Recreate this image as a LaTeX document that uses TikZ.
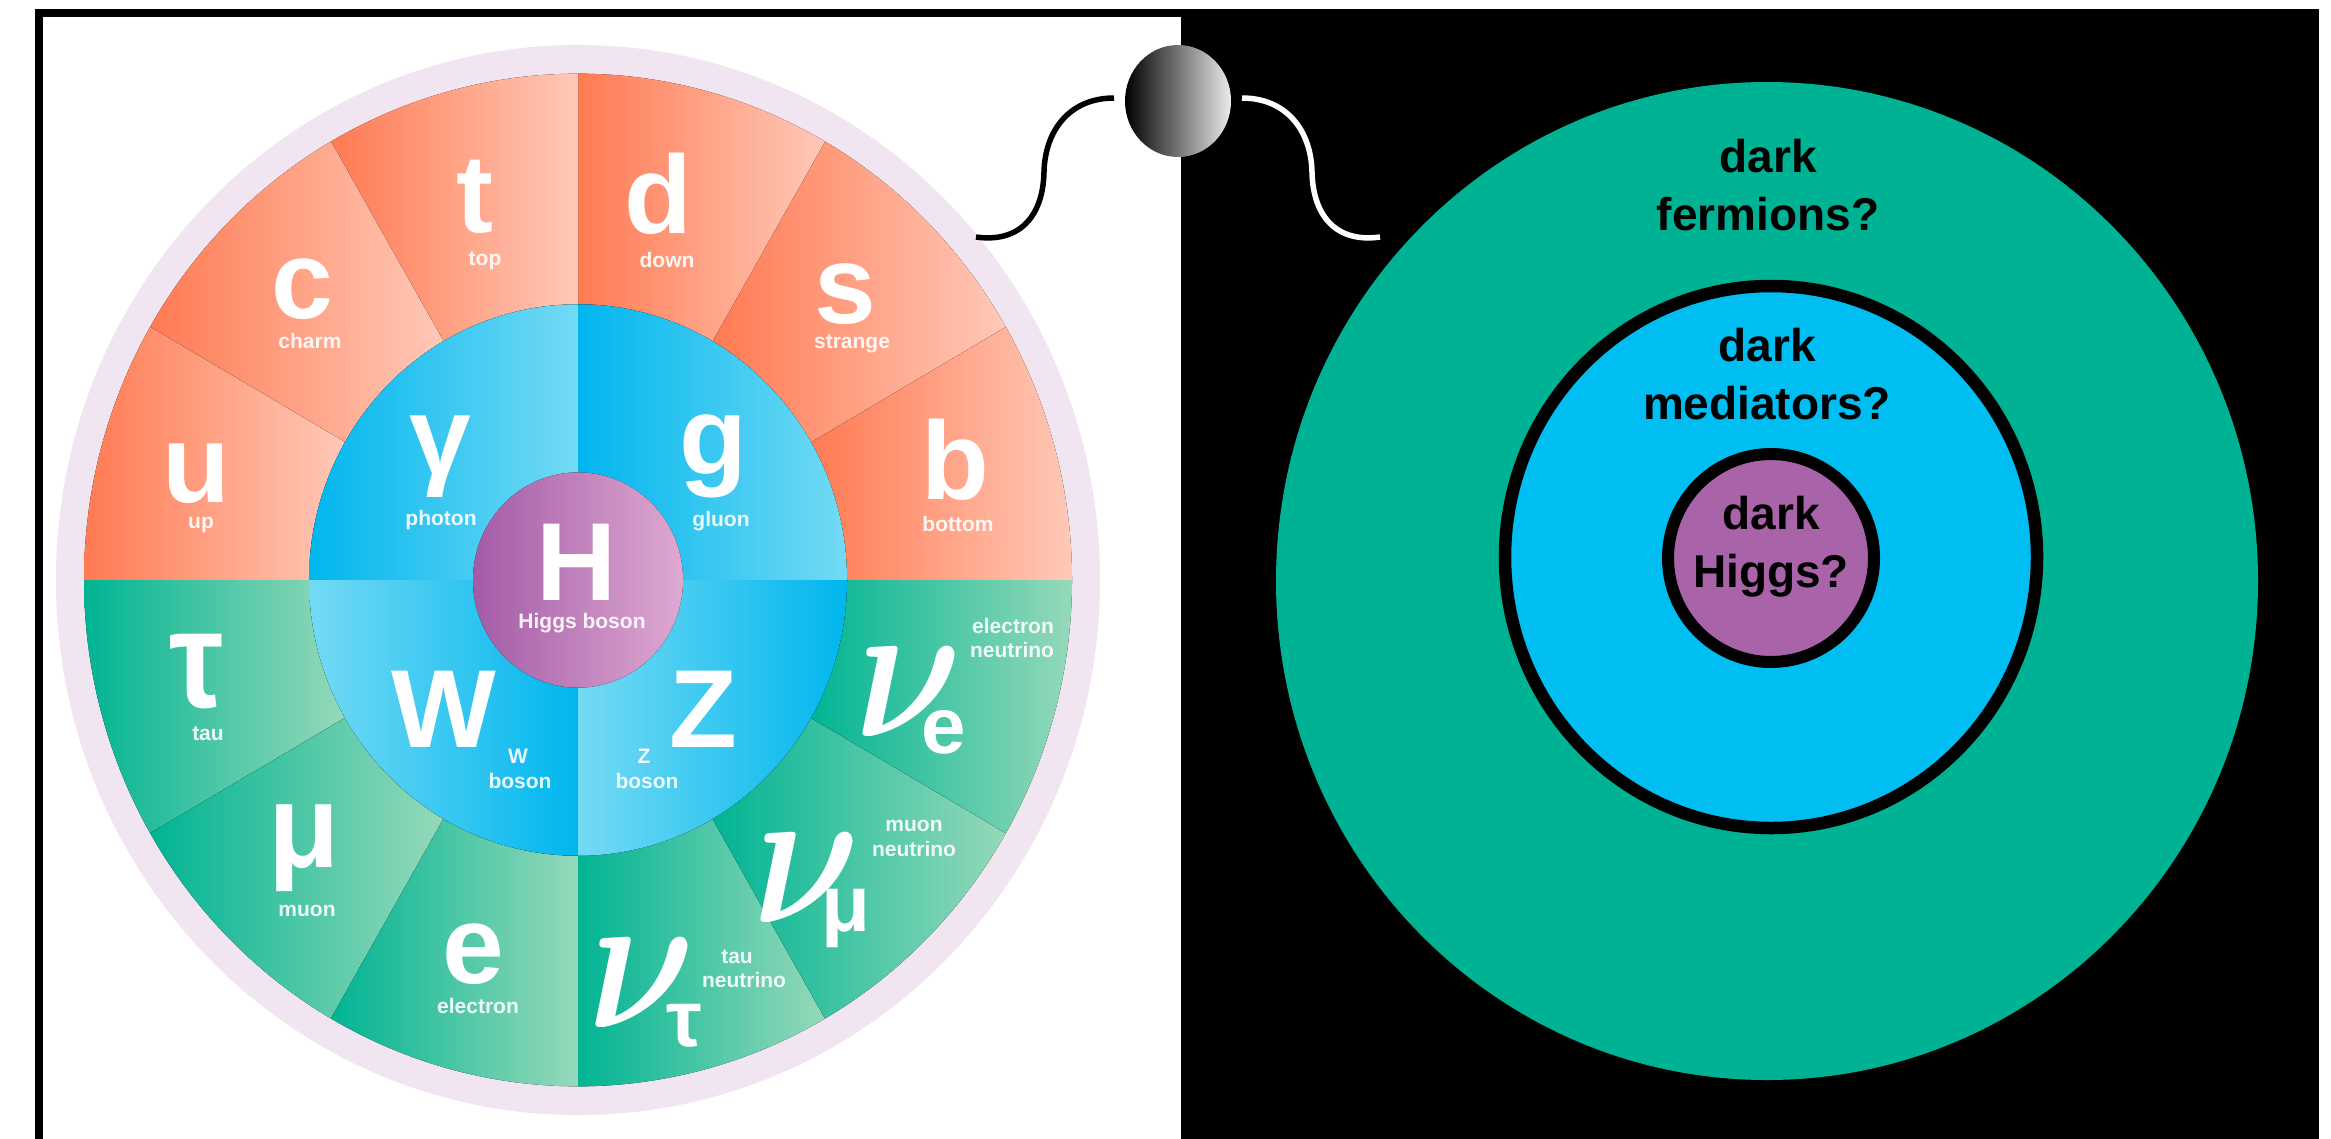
\documentclass[tikz,border=0pt]{standalone}
\usepackage{fontspec}
\usepackage{graphicx}
\usepackage{bm}
\setmainfont{Liberation Sans}
\usetikzlibrary{shapes.geometric}
\definecolor{lav}{HTML}{F0E5F0}
\definecolor{orL}{HTML}{FF7A52}
\definecolor{orR}{HTML}{FFC9B8}
\definecolor{grL}{HTML}{00B493}
\definecolor{grR}{HTML}{95D9B9}
\definecolor{blD}{HTML}{00B6EE}
\definecolor{blL}{HTML}{74DAF4}
\definecolor{hL}{HTML}{A35BA7}
\definecolor{hR}{HTML}{DEA9D1}
\definecolor{grn}{HTML}{00B294}
\definecolor{blu}{HTML}{00BDF2}
\definecolor{pur}{HTML}{A963A9}
\begin{document}
\begin{tikzpicture}[x=1pt,y=1pt,
  big/.style={font=\fontsize{111}{111}\selectfont\bfseries, text=white, inner sep=0pt},
  subl/.style={font=\fontsize{80}{80}\selectfont\bfseries, text=white, inner sep=0pt},
  lab/.style={font=\fontsize{21}{22}\selectfont\bfseries, text=white, text opacity=0.9, inner sep=0pt},
  dk/.style={font=\fontsize{46}{58}\selectfont\bfseries, text=black, inner sep=0pt, align=center, anchor=north},
  nusym/.style={text=white, inner sep=0pt},
  wire/.style={line width=5.5pt}
]
\useasboundingbox (0,0) rectangle (2331,-1138);
\clip (0,0) rectangle (2331,-1138);
\fill[white] (0,0) rectangle (2331,-1138);
\fill[black] (1181,-9) rectangle (2319,-1160);
\draw[line width=8pt] (39,-13) rectangle (2315,-1160);

% ---- Standard Model wheel ----
\begin{scope}[shift={(578,-580)}, yscale=1.025]
  \fill[lav] (0,0) circle[radius=522pt];
  \foreach \a in {0,30,...,150} {
    \fill[left color=orL, right color=orR] (\a:269pt) -- (\a:494pt)
      arc[start angle=\a, end angle={\a+30}, radius=494pt] -- ({\a+30}:269pt)
      arc[start angle={\a+30}, end angle=\a, radius=269pt] -- cycle;
  }
  \foreach \a in {180,210,...,330} {
    \fill[left color=grL, right color=grR] (\a:269pt) -- (\a:494pt)
      arc[start angle=\a, end angle={\a+30}, radius=494pt] -- ({\a+30}:269pt)
      arc[start angle={\a+30}, end angle=\a, radius=269pt] -- cycle;
  }
  \fill[left color=blD, right color=blL] (0,0) -- (90:269pt) arc[start angle=90, end angle=180, radius=269pt] -- cycle;
  \fill[left color=blD, right color=blL] (0,0) -- (0:269pt) arc[start angle=0, end angle=90, radius=269pt] -- cycle;
  \fill[left color=blL, right color=blD] (0,0) -- (180:269pt) arc[start angle=180, end angle=270, radius=269pt] -- cycle;
  \fill[left color=blL, right color=blD] (0,0) -- (270:269pt) arc[start angle=270, end angle=360, radius=269pt] -- cycle;
  \fill[left color=hL, right color=hR] (0,0) circle[radius=105pt];
\end{scope}

% quarks
\node[big] (t) at (475,-197) {t};
\node[lab] (tl) at (485,-261) {top};
\node[big] (d) at (658,-194) {d};
\node[lab] (dl) at (667,-260) {down};
\node[big] (c) at (302,-289) {c};
\node[lab] (cl) at (310,-341) {charm};
\node[big] (s) at (845,-294) {s};
\node[lab] (sl) at (852,-344) {strange};
\node[big] (u) at (196,-474) {u};
\node[lab] (ul) at (201,-525) {up};
\node[big] (b) at (955,-460) {b};
\node[lab] (bl) at (958,-524) {bottom};
% bosons
\node[big] (gam) at (440,-457) {γ};
\node[lab] (gaml) at (441,-520) {photon};
\node[big] (g) at (713,-456) {g};
\node[lab] (gl) at (721,-521) {gluon};
\node[big] (H) at (577,-562) {H};
\node[lab] (Hl) at (582,-623) {Higgs boson};
\node[big] (W) at (444,-709) {W};
\node[lab] (Wl1) at (518,-756) {W};
\node[lab] (Wl2) at (520,-781) {boson};
\node[big] (Z) at (703,-709) {Z};
\node[lab] (Zl1) at (644,-756) {Z};
\node[lab] (Zl2) at (647,-781) {boson};
% leptons
\node[big] (tau) at (197,-672) {\scalebox{1.1}[1.25]{τ}};
\node[lab] (taul) at (208,-734) {tau};
\node[big] (mu) at (304,-848) {\scalebox{1.05}[1.07]{μ}};
\node[lab] (mul) at (307,-911) {muon};
\node[big] (e) at (473,-954) {e};
\node[lab] (el) at (478,-1006) {electron};
\node[nusym] (nut) at (642,-983) {\scalebox{16.5}[20]{$\bm{\nu}$}};
\node[subl] (nuts) at (684,-1026) {τ};
\node[lab] (nutl1) at (737,-957) {tau};
\node[lab] (nutl2) at (744,-980) {neutrino};
\node[nusym] (num) at (807,-878) {\scalebox{16.5}[20]{$\bm{\nu}$}};
\node[subl] (nums) at (846,-918) {μ};
\node[lab] (numl1) at (914,-826) {muon};
\node[lab] (numl2) at (914,-849) {neutrino};
\node[nusym] (nue) at (909,-692) {\scalebox{16.5}[20]{$\bm{\nu}$}};
\node[subl] (nues) at (944,-732) {e};
\node[lab] (nuel1) at (1013,-626) {electron};
\node[lab] (nuel2) at (1012,-650) {neutrino};

% ---- dark sector ----
\fill[grn] (1767,-581) ellipse[x radius=491pt, y radius=499pt];
\draw[line width=12.5pt, fill=blu] (1771,-557) ellipse[x radius=266pt, y radius=271pt];
\draw[line width=12pt, fill=pur] (1771,-558) ellipse[x radius=103pt, y radius=104pt];
\node[dk] (df) at (1768,-139) {dark\\fermions?};
\node[dk] (dm) at (1767,-328) {dark\\mediators?};
\node[dk] (dh) at (1771,-496) {dark\\Higgs?};

% ---- portal ----
\node[ellipse, minimum width=106pt, minimum height=112pt, inner sep=0pt,
      left color=black, right color=black!8] (sph) at (1178,-101) {};
\coordinate (bs) at (1114,-98);
\coordinate (be) at (976,-237);
\coordinate (ws) at (1242,-98);
\coordinate (we) at (1380,-237);
\draw[wire] (bs) .. controls (1070,-98) and (1045,-130) .. (1044,-172)
  .. controls (1043,-218) and (1018,-243) .. (be);
\draw[wire, white] (ws) .. controls (1286,-98) and (1311,-130) .. (1312,-172)
  .. controls (1313,-218) and (1338,-243) .. (we);
\end{tikzpicture}
\end{document}
